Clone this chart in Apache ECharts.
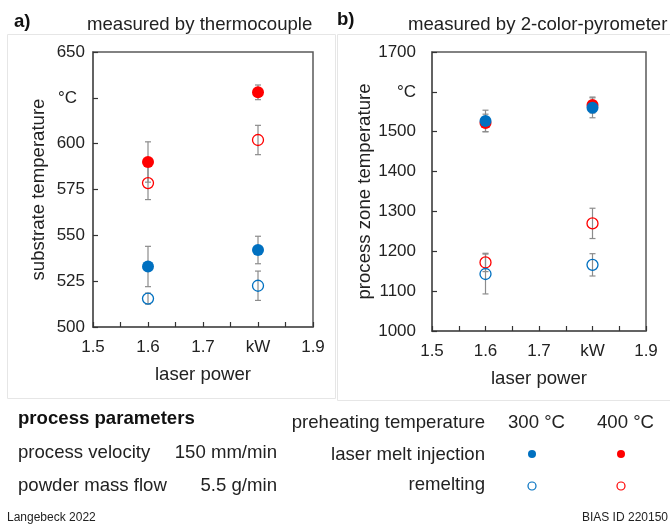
<!DOCTYPE html>
<html>
<head>
<meta charset="utf-8">
<script src="https://cdn.jsdelivr.net/npm/echarts@6/dist/echarts.min.js"></script>
<style>html,body{margin:0;padding:0;background:#fff}#c{width:670px;height:525px}</style>
</head>
<body>
<div id="c"></div>
<script>
// laser power (kW)
const power = [1.6, 1.8];
// a) substrate temperature, measured by thermocouple (°C)
const aInj300 = [533, 542];     const aInj300Err = [11, 7.5];
const aInj400 = [590, 628];     const aInj400Err = [11, 4];
const aRem300 = [515.5, 522.5]; const aRem300Err = [3, 8];
const aRem400 = [578.5, 602];   const aRem400Err = [9, 8];
// b) process zone temperature, measured by 2-color-pyrometer (°C)
const bInj300 = [1527, 1560];   const bInj300Err = [27, 25];
const bInj400 = [1522, 1567];   const bInj400Err = [22, 20];
const bRem300 = [1143, 1166];   const bRem300Err = [50, 28];
const bRem400 = [1172, 1270];   const bRem400Err = [23, 38];

const BLUE = '#0070C0', RED = '#FF0000';
const FONT = 'Liberation Sans, Arial, sans-serif';
const AXC = '#595959';
const FS = 18.6;

function pts(vals){ return power.map((p,i)=>[p, vals[i]]); }
function errs(vals, e){ return power.map((p,i)=>[p, vals[i]-e[i], vals[i]+e[i]]); }

function errSeries(idx, vals, e){
  return {
    type:'custom', xAxisIndex:idx, yAxisIndex:idx, z:1, silent:true,
    data: errs(vals, e),
    encode:{x:0, y:[1,2]},
    renderItem:function(params, api){
      const lo = api.coord([api.value(0), api.value(1)]);
      const hi = api.coord([api.value(0), api.value(2)]);
      const w = 3;
      const st = {stroke:'#8c8c8c', lineWidth:1.2};
      return {type:'group', children:[
        {type:'line', shape:{x1:lo[0], y1:lo[1], x2:hi[0], y2:hi[1]}, style:st},
        {type:'line', shape:{x1:lo[0]-w, y1:lo[1], x2:lo[0]+w, y2:lo[1]}, style:st},
        {type:'line', shape:{x1:hi[0]-w, y1:hi[1], x2:hi[0]+w, y2:hi[1]}, style:st}
      ]};
    }
  };
}
function filled(idx, vals, color){
  return {type:'scatter', xAxisIndex:idx, yAxisIndex:idx, z:3, symbol:'circle', symbolSize:12,
    itemStyle:{color:color, opacity:1}, data:pts(vals)};
}
function open(idx, vals, color){
  return {type:'scatter', xAxisIndex:idx, yAxisIndex:idx, z:3, symbol:'circle', symbolSize:11,
    itemStyle:{color:'rgba(0,0,0,0)', borderColor:color, borderWidth:1.3, opacity:1}, data:pts(vals)};
}

function xAxis(idx){
  return {type:'value', gridIndex:idx, min:1.5, max:1.9, interval:0.05,
    name:'laser power', nameLocation:'middle', nameGap:38,
    nameTextStyle:{fontFamily:FONT, fontSize:FS, color:'#222'},
    axisLine:{show:true, lineStyle:{color:AXC, width:1.5}},
    axisTick:{show:true, inside:true, length:5, lineStyle:{color:'#333', width:1.2}},
    splitLine:{show:false},
    axisLabel:{fontFamily:FONT, fontSize:17, color:'#222', margin:12, showMinLabel:true, showMaxLabel:true,
      formatter:function(v){
        const k = Math.round(v*100);
        if (k % 10 !== 0) return '';
        if (k === 180) return 'kW';
        return (k/100).toFixed(1);
      }}
  };
}
function yAxis(idx, min, max, interval, unitAt, name, margin, gap, pad){
  return {type:'value', gridIndex:idx, min:min, max:max, interval:interval,
    name:name, nameLocation:'middle', nameGap:gap, nameRotate:90,
    nameTextStyle:{fontFamily:FONT, fontSize:FS, color:'#222'},
    axisLine:{show:true, lineStyle:{color:AXC, width:1.5}},
    axisTick:{show:true, inside:true, length:5, lineStyle:{color:'#333', width:1.2}},
    splitLine:{show:false},
    axisLabel:{fontFamily:FONT, fontSize:17, color:'#222', margin:margin,
      formatter:function(v){ return v === unitAt ? '{u|°C}' : String(v); },
      rich:{u:{fontFamily:FONT, fontSize:17, color:'#222', padding:[0,pad,0,0]}}
    }
  };
}

function txt(x, y, s, opts){
  return {type:'text', x:x, y:y, silent:true,
    style:Object.assign({text:s, font:FS + 'px ' + FONT, fill:'#222', textVerticalAlign:'middle'}, opts||{})};
}

const chart = echarts.init(document.getElementById('c'), null, {renderer:'canvas'});
chart.setOption({
  animation:false,
  backgroundColor:'#fff',
  grid:[
    {left:93, right:357, top:52, bottom:198, show:true, borderColor:AXC, borderWidth:1.5, backgroundColor:'transparent'},
    {left:432, right:24, top:52, bottom:194, show:true, borderColor:AXC, borderWidth:1.5, backgroundColor:'transparent'}
  ],
  xAxis:[xAxis(0), xAxis(1)],
  yAxis:[
    yAxis(0, 500, 650, 25, 625, 'substrate temperature', 8, 45, 8),
    yAxis(1, 1000, 1700, 100, 1600, 'process zone temperature', 16, 54, 0)
  ],
  series:[
    errSeries(0, aRem400, aRem400Err), errSeries(0, aInj400, aInj400Err),
    errSeries(0, aRem300, aRem300Err), errSeries(0, aInj300, aInj300Err),
    filled(0, aInj400, RED), filled(0, aInj300, BLUE),
    open(0, aRem400, RED), open(0, aRem300, BLUE),
    errSeries(1, bRem400, bRem400Err), errSeries(1, bInj400, bInj400Err),
    errSeries(1, bRem300, bRem300Err), errSeries(1, bInj300, bInj300Err),
    filled(1, bInj400, RED), filled(1, bInj300, BLUE),
    open(1, bRem400, RED), open(1, bRem300, BLUE)
  ],
  graphic:[
    {type:'rect', silent:true, z:-1, shape:{x:7.5, y:34.5, width:328, height:364}, style:{fill:'none', stroke:'#e6e6e6', lineWidth:1}},
    {type:'rect', silent:true, z:-1, shape:{x:337.5, y:34.5, width:340, height:366}, style:{fill:'none', stroke:'#e6e6e6', lineWidth:1}},
    txt(14, 22, 'a)', {font:'bold ' + FS + 'px ' + FONT, fill:'#111'}),
    txt(87, 25, 'measured by thermocouple'),
    txt(337, 20, 'b)', {font:'bold ' + FS + 'px ' + FONT, fill:'#111'}),
    txt(408, 25, 'measured by 2-color-pyrometer'),
    txt(18, 419, 'process parameters', {font:'bold ' + FS + 'px ' + FONT, fill:'#111'}),
    txt(18, 453, 'process velocity'),
    txt(277, 453, '150 mm/min', {textAlign:'right'}),
    txt(18, 486, 'powder mass flow'),
    txt(277, 486, '5.5 g/min', {textAlign:'right'}),
    txt(485, 423, 'preheating temperature', {textAlign:'right'}),
    txt(508, 423, '300 °C'),
    txt(597, 423, '400 °C'),
    txt(485, 455, 'laser melt injection', {textAlign:'right'}),
    txt(485, 485, 'remelting', {textAlign:'right'}),
    {type:'circle', silent:true, shape:{cx:532, cy:454, r:4}, style:{fill:BLUE}},
    {type:'circle', silent:true, shape:{cx:621, cy:454, r:4}, style:{fill:RED}},
    {type:'circle', silent:true, shape:{cx:532, cy:486, r:4}, style:{fill:'none', stroke:BLUE, lineWidth:1.2}},
    {type:'circle', silent:true, shape:{cx:621, cy:486, r:4}, style:{fill:'none', stroke:RED, lineWidth:1.2}},
    txt(7, 518, 'Langebeck 2022', {font:'12px ' + FONT}),
    txt(668, 518, 'BIAS ID 220150', {font:'12px ' + FONT, textAlign:'right'})
  ]
});
</script>
</body>
</html>
